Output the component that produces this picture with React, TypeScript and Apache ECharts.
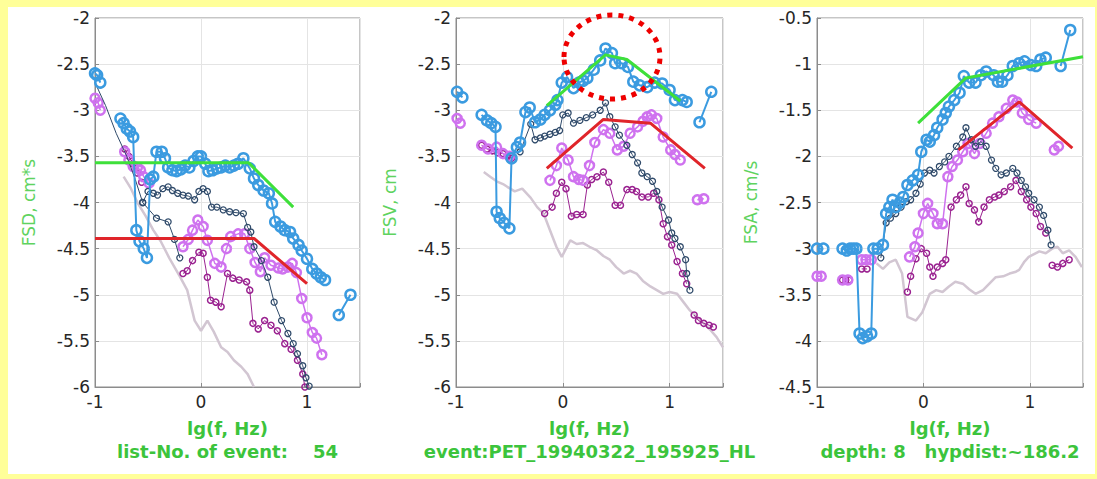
import React, { useEffect, useRef } from "react";
import * as echarts from "echarts";

const GAP = null;

// ---------- Panel 1 (FSD) ----------
const p1Blue = [[-1, -2.6], [-0.98, -2.62], [-0.95, -2.7], GAP, [-0.76, -3.09], [-0.73, -3.14], [-0.7, -3.2], [-0.67, -3.23], [-0.64, -3.29], [-0.61, -4.3], [-0.58, -4.42], [-0.54, -4.5], [-0.51, -4.6], [-0.48, -3.75], [-0.45, -3.72], [-0.42, -3.45], [-0.37, -3.45], [-0.34, -3.52], [-0.31, -3.62], [-0.27, -3.65], [-0.23, -3.66], [-0.19, -3.64], [-0.15, -3.6], [-0.11, -3.62], [-0.07, -3.55], [-0.03, -3.5], [0.0, -3.5], [0.04, -3.58], [0.07, -3.66], [0.11, -3.65], [0.15, -3.63], [0.19, -3.62], [0.23, -3.6], [0.27, -3.62], [0.31, -3.6], [0.35, -3.58], [0.4, -3.52], [0.46, -3.63], [0.5, -3.74], [0.54, -3.81], [0.59, -3.87], [0.64, -3.9], [0.67, -4.01], [0.7, -4.21], [0.75, -4.26], [0.79, -4.3], [0.84, -4.32], [0.87, -4.39], [0.92, -4.46], [0.95, -4.52], [1.0, -4.61], [1.05, -4.72], [1.09, -4.77], [1.13, -4.81], [1.17, -4.84], GAP, [1.3, -5.22], [1.41, -5.0]];
const p1NavyLead = [[-1, -2.7], [-0.9, -2.95], [-0.8, -3.25], [-0.7, -3.5], [-0.62, -3.75], [-0.55, -4.0]];
const p1NavyBranch = [[-0.55, -4.0], [-0.42, -4.17], [-0.31, -4.21], [-0.25, -4.4], [-0.2, -4.6]];
const p1Navy = [[-0.55, -4.0], [-0.5, -3.88], [-0.45, -3.9], [-0.41, -3.92], [-0.36, -3.85], [-0.31, -3.83], [-0.27, -3.87], [-0.22, -3.9], [-0.17, -3.92], [-0.12, -3.93], [-0.06, -3.97], [-0.02, -3.88], [0.02, -3.85], [0.06, -3.88], [0.1, -4.05], [0.15, -4.05], [0.21, -4.08], [0.27, -4.1], [0.33, -4.11], [0.4, -4.12], [0.44, -4.27], [0.47, -4.32], [0.5, -4.48], [0.57, -4.63], [0.63, -4.81], [0.69, -5.08], [0.76, -5.28], [0.82, -5.42], [0.87, -5.53], [0.91, -5.64], [0.96, -5.77], [0.99, -5.9], [1.02, -5.99]];
const p1Violet = [[-1, -2.87], [-0.97, -2.92], [-0.95, -3.0], GAP, [-0.72, -3.45], [-0.68, -3.54], [-0.64, -3.61], [-0.6, -3.62], [-0.57, -3.65], [-0.54, -3.72], [-0.49, -3.79], GAP, [-0.17, -4.48], [-0.12, -4.4], [-0.08, -4.3], [-0.03, -4.19], [0.02, -4.26], [0.06, -4.41], [0.13, -4.66], [0.19, -4.7], [0.24, -4.5], [0.28, -4.37], [0.35, -4.34], [0.41, -4.34], [0.46, -4.5], [0.51, -4.65], [0.56, -4.75], [0.6, -4.6], [0.66, -4.68], [0.73, -4.71], [0.77, -4.72], [0.82, -4.7], [0.86, -4.66], [0.9, -4.76], [0.95, -5.04], [1.0, -5.25], [1.05, -5.41], [1.09, -5.47], [1.14, -5.65]];
const p1Magenta = [[-0.72, -3.42], [-0.68, -3.5], [-0.64, -3.58], [-0.6, -3.68], [-0.56, -3.78], GAP, [-0.17, -4.77], [-0.13, -4.74], [-0.08, -4.63], [-0.02, -4.54], [0.02, -4.55], [0.06, -4.81], [0.09, -5.06], [0.14, -5.08], [0.19, -5.13], [0.25, -4.77], [0.3, -4.82], [0.36, -4.84], [0.43, -4.86], [0.46, -4.95], [0.49, -5.31], [0.54, -5.37], [0.6, -5.28], [0.66, -5.33], [0.72, -5.39], [0.79, -5.53], [0.85, -5.59], [0.91, -5.71], [0.96, -5.86], [0.98, -6.0]];
const p1Gray = [[-0.73, -3.72], [-0.66, -3.85], [-0.6, -4.0], [-0.52, -4.15], [-0.45, -4.3], [-0.38, -4.42], [-0.3, -4.6], [-0.2, -4.8], [-0.13, -4.95], [-0.06, -5.28], [0, -5.39], [0.06, -5.28], [0.12, -5.4], [0.19, -5.57], [0.25, -5.62], [0.31, -5.71], [0.38, -5.78], [0.44, -5.86], [0.5, -6.0]];
const p1Green = [[-1, -3.57], [0.45, -3.57], [0.87, -4.05]];
const p1Red = [[-1, -4.39], [0.5, -4.39], [1.0, -4.88]];

// ---------- Panel 2 (FSV) ----------
const p2Blue = [[-0.99, -2.8], [-0.94, -2.86], GAP, [-0.76, -3.05], [-0.71, -3.11], [-0.67, -3.14], [-0.63, -3.18], [-0.62, -4.1], [-0.59, -4.17], [-0.55, -4.22], [-0.5, -4.28], [-0.48, -3.52], [-0.43, -3.4], [-0.4, -3.35], [-0.35, -3.02], [-0.31, -2.97], [-0.26, -3.13], [-0.21, -3.1], [-0.17, -3.05], [-0.12, -3.0], [-0.07, -2.94], [-0.05, -2.89], [-0.01, -2.7], [0.04, -2.64], [0.1, -2.76], [0.15, -2.7], [0.19, -2.68], [0.23, -2.65], [0.29, -2.56], [0.35, -2.46], [0.4, -2.33], [0.46, -2.38], [0.49, -2.49], [0.55, -2.49], [0.61, -2.53], [0.66, -2.69], [0.72, -2.73], [0.79, -2.75], [0.86, -2.7], [0.93, -2.71], [1.0, -2.78], [1.05, -2.89], [1.12, -2.89], [1.16, -2.91], GAP, [1.28, -3.13], [1.39, -2.8]];
const p2Navy = [[-0.4, -3.45], [-0.3, -3.15], [-0.26, -3.32], [-0.21, -3.3], [-0.17, -3.28], [-0.12, -3.26], [-0.07, -3.24], [-0.03, -3.22], [0.0, -3.05], [0.05, -3.03], [0.1, -3.14], [0.16, -3.11], [0.22, -3.08], [0.28, -3.05], [0.35, -3.0], [0.4, -2.92], [0.44, -3.07], [0.49, -3.18], [0.53, -3.27], [0.6, -3.38], [0.65, -3.48], [0.7, -3.57], [0.74, -3.68], [0.79, -3.72], [0.84, -3.77], [0.88, -3.88], [0.93, -4.05], [0.99, -4.19], [1.02, -4.33], [1.05, -4.39], [1.1, -4.48], [1.15, -4.62], [1.16, -4.77], [1.19, -4.95]];
const p2Violet = [[-0.99, -3.09], [-0.96, -3.14], GAP, [-0.76, -3.38], [-0.7, -3.42], [-0.62, -3.4], [-0.56, -3.47], [-0.5, -3.5], GAP, [-0.12, -3.76], [-0.06, -3.6], [-0.01, -3.41], [0.05, -3.54], [0.1, -3.72], [0.15, -3.75], [0.19, -3.76], [0.25, -3.6], [0.3, -3.35], [0.38, -3.21], [0.44, -3.25], [0.51, -3.43], [0.57, -3.39], [0.63, -3.25], [0.7, -3.18], [0.75, -3.12], [0.79, -3.07], [0.83, -3.05], [0.88, -3.09], [0.94, -3.29], [1.01, -3.43], [1.05, -3.48], [1.1, -3.54], GAP, [1.26, -3.97], [1.32, -3.96]];
const p2Magenta = [[-0.76, -3.38], [-0.71, -3.42], [-0.66, -3.44], [-0.61, -3.46], [-0.56, -3.47], [-0.52, -3.5], [-0.48, -3.52], GAP, [-0.17, -4.12], [-0.1, -4.05], [-0.06, -3.9], [-0.01, -3.78], [0.03, -3.85], [0.08, -4.15], [0.13, -4.13], [0.19, -4.13], [0.23, -3.81], [0.27, -3.75], [0.32, -3.72], [0.38, -3.67], [0.43, -3.78], [0.49, -4.03], [0.54, -4.03], [0.6, -3.86], [0.65, -3.86], [0.69, -3.88], [0.74, -3.94], [0.8, -3.94], [0.85, -3.9], [0.9, -3.97], [0.94, -4.23], [0.98, -4.37], [1.02, -4.46], [1.07, -4.64], [1.12, -4.77], [1.16, -4.88], GAP, [1.23, -5.22], [1.27, -5.28], [1.32, -5.31], [1.37, -5.33], [1.41, -5.35]];
const p2Gray = [[-0.74, -3.67], [-0.68, -3.72], [-0.62, -3.77], [-0.56, -3.8], [-0.52, -3.83], [-0.45, -3.88], [-0.38, -3.85], [-0.3, -3.95], [-0.24, -4.05], [-0.18, -4.12], [-0.12, -4.3], [-0.06, -4.48], [-0.01, -4.59], [0.03, -4.5], [0.07, -4.41], [0.13, -4.45], [0.19, -4.44], [0.25, -4.48], [0.32, -4.52], [0.38, -4.58], [0.44, -4.62], [0.5, -4.7], [0.57, -4.77], [0.63, -4.74], [0.69, -4.77], [0.75, -4.85], [0.82, -4.91], [0.88, -4.95], [0.94, -4.99], [1.0, -4.97], [1.07, -4.99], [1.13, -5.08], [1.19, -5.17], [1.26, -5.25], [1.32, -5.31], [1.38, -5.38], [1.44, -5.46], [1.5, -5.57]];
const p2Green = [[-0.15, -2.95], [0.4, -2.4], [0.6, -2.45], [1.1, -2.9]];
const p2Red = [[-0.15, -3.63], [0.38, -3.1], [0.82, -3.14], [1.33, -3.63]];

// ---------- Panel 3 (FSA) ----------
const p3Blue = [[-1, -3.0], [-0.94, -3.0], GAP, [-0.76, -3.0], [-0.72, -3.02], [-0.69, -3.0], [-0.66, -3.0], [-0.63, -3.0], [-0.6, -3.92], [-0.57, -3.97], [-0.53, -3.95], [-0.49, -3.92], [-0.47, -3.0], [-0.43, -3.0], [-0.38, -2.96], [-0.35, -2.62], [-0.32, -2.55], [-0.29, -2.47], [-0.26, -2.55], [-0.22, -2.5], [-0.19, -2.44], [-0.15, -2.31], [-0.1, -2.26], [-0.05, -2.2], [-0.02, -1.95], [0.03, -1.82], [0.06, -1.84], [0.1, -1.77], [0.13, -1.69], [0.18, -1.6], [0.21, -1.53], [0.24, -1.46], [0.29, -1.39], [0.34, -1.31], [0.38, -1.13], [0.43, -1.2], [0.49, -1.2], [0.54, -1.12], [0.59, -1.08], [0.66, -1.12], [0.7, -1.19], [0.74, -1.19], [0.79, -1.12], [0.84, -1.02], [0.9, -0.99], [0.95, -0.97], [1.01, -1.01], [1.06, -1.02], [1.1, -0.95], [1.15, -0.93], GAP, [1.29, -1.02], [1.38, -0.63]];
const p3Navy = [[-0.4, -3.1], [-0.35, -2.72], [-0.31, -2.67], [-0.26, -2.62], [-0.21, -2.55], [-0.16, -2.49], [-0.12, -2.47], [-0.07, -2.4], [-0.03, -2.3], [0.01, -2.18], [0.06, -2.15], [0.1, -2.18], [0.15, -2.11], [0.2, -2.06], [0.24, -2.0], [0.31, -1.89], [0.37, -1.79], [0.4, -1.69], [0.45, -1.82], [0.49, -1.89], [0.54, -1.84], [0.59, -1.89], [0.64, -2.04], [0.68, -2.13], [0.73, -2.2], [0.78, -2.18], [0.84, -2.13], [0.88, -2.18], [0.92, -2.26], [0.96, -2.33], [0.99, -2.4], [1.04, -2.47], [1.09, -2.55], [1.13, -2.64], [1.17, -2.8], [1.2, -2.96]];
const p3Violet = [[-1, -3.3], [-0.96, -3.3], GAP, [-0.76, -3.34], [-0.71, -3.34], GAP, [-0.58, -3.12], [-0.54, -3.12], [-0.49, -3.12], GAP, [-0.13, -3.09], [-0.08, -2.98], [-0.05, -2.83], [0.0, -2.62], [0.04, -2.51], [0.09, -2.62], [0.13, -2.73], [0.18, -2.73], [0.23, -2.22], [0.27, -2.11], [0.32, -2.04], [0.37, -1.95], [0.42, -1.86], [0.48, -1.97], [0.53, -1.86], [0.59, -1.75], [0.65, -1.64], [0.71, -1.57], [0.78, -1.48], [0.84, -1.39], [0.88, -1.41], [0.93, -1.53], [0.99, -1.6], [1.06, -1.64], GAP, [1.23, -1.93], [1.27, -1.89]];
const p3Magenta = [[-0.76, -3.34], [-0.73, -3.34], [-0.7, -3.34], GAP, [-0.58, -3.22], [-0.53, -3.22], GAP, [-0.15, -3.47], [-0.12, -3.3], [-0.07, -3.11], [-0.02, -3.0], [0.03, -3.05], [0.06, -3.2], [0.09, -3.3], [0.13, -3.2], [0.18, -3.16], [0.21, -3.12], [0.26, -2.55], [0.31, -2.47], [0.35, -2.42], [0.4, -2.33], [0.43, -2.51], [0.48, -2.58], [0.52, -2.71], [0.57, -2.55], [0.62, -2.47], [0.67, -2.44], [0.71, -2.42], [0.76, -2.38], [0.82, -2.33], [0.87, -2.26], [0.92, -2.38], [0.97, -2.47], [1.01, -2.55], [1.06, -2.62], [1.1, -2.76], [1.15, -2.83], GAP, [1.21, -3.18], [1.26, -3.2], [1.31, -3.16], [1.37, -3.12]];
const p3Gray = [[-0.44, -3.16], [-0.38, -3.22], [-0.32, -3.15], [-0.26, -3.12], [-0.2, -3.27], [-0.15, -3.74], [-0.07, -3.78], [-0.01, -3.69], [0.06, -3.49], [0.12, -3.45], [0.18, -3.47], [0.24, -3.41], [0.3, -3.36], [0.37, -3.38], [0.43, -3.44], [0.49, -3.49], [0.56, -3.45], [0.62, -3.38], [0.68, -3.31], [0.75, -3.3], [0.81, -3.27], [0.87, -3.25], [0.9, -3.23], [0.95, -3.14], [0.99, -3.09], [1.04, -3.06], [1.09, -3.03], [1.15, -3.05], [1.21, -3.0], [1.26, -2.98], [1.31, -3.05], [1.37, -3.02], [1.43, -3.09], [1.49, -3.2]];
const p3Green = [[-0.05, -1.64], [0.4, -1.15], [1.5, -0.92]];
const p3Red = [[0.33, -1.93], [0.9, -1.41], [1.4, -1.91]];

// ---------- axes / texts ----------
const xMin = -1;
const xMax = 1.5;
const yMins = [-6, -6, -4.5];
const yMaxs = [-2, -2, -0.5];
const yNames = ["FSD, cm*s", "FSV, cm", "FSA, cm/s"];
const xName = "lg(f, Hz)";
const captions = ["list-No. of event:    54", "event:PET_19940322_195925_HL", "depth: 8   hypdist:~186.2"];

const gridLefts = [95, 456, 817];
const gridWidths = [265, 267, 266];
const GRID_TOP = 18;
const GRID_H = 369;

const C_BLUE = "#3b9be0";
const C_NAVY = "#2f4a6a";
const C_VIOLET = "#cf72ef";
const C_MAGENTA = "#9a2290";
const C_GRAY = "#d2c6d2";
const C_GREEN = "#3ee03a";
const C_RED = "#e0252a";
const FONT = "DejaVu Sans, Verdana, sans-serif";

const toData = (arr: any[]) => arr.map((p) => (p === null ? ["-", "-"] : p));

function marker(data: any[], g: number, color: string, size: number, bw: number, lw: number, z: number) {
  return {
    type: "line",
    xAxisIndex: g,
    yAxisIndex: g,
    data: toData(data),
    symbol: "circle",
    symbolSize: size,
    showSymbol: true,
    connectNulls: false,
    silent: true,
    itemStyle: { color: "rgba(255,255,255,0)", borderColor: color, borderWidth: bw },
    lineStyle: { color, width: lw },
    z,
  };
}
function plain(data: any[], g: number, color: string, lw: number, z: number) {
  return {
    type: "line",
    xAxisIndex: g,
    yAxisIndex: g,
    data: toData(data),
    symbol: "none",
    connectNulls: false,
    silent: true,
    lineStyle: { color, width: lw },
    z,
  };
}

const panels = [
  { blue: p1Blue, navy: p1Navy, violet: p1Violet, magenta: p1Magenta, gray: p1Gray, green: p1Green, red: p1Red },
  { blue: p2Blue, navy: p2Navy, violet: p2Violet, magenta: p2Magenta, gray: p2Gray, green: p2Green, red: p2Red },
  { blue: p3Blue, navy: p3Navy, violet: p3Violet, magenta: p3Magenta, gray: p3Gray, green: p3Green, red: p3Red },
];

function buildOption() {
  const grid: any[] = [];
  const xAxis: any[] = [];
  const yAxis: any[] = [];
  const series: any[] = [];
  const graphic: any[] = [];
  panels.forEach((p, g) => {
    grid.push({
      left: gridLefts[g],
      top: GRID_TOP,
      width: gridWidths[g],
      height: GRID_H,
      show: true,
      backgroundColor: "#ffffff",
      borderColor: "#8c8c8c",
      borderWidth: 1,
    });
    xAxis.push({
      type: "value",
      gridIndex: g,
      min: xMin,
      max: xMax,
      interval: 1,
      name: xName,
      nameLocation: "middle",
      nameGap: 32,
      nameTextStyle: { color: "#3cc43c", fontWeight: "bold", fontSize: 18, fontFamily: FONT },
      axisLine: { show: true, onZero: false, lineStyle: { color: "#8c8c8c" } },
      axisTick: { show: true, inside: true, length: 4, lineStyle: { color: "#8c8c8c" } },
      splitLine: { show: true, lineStyle: { color: "#e4e4e4" } },
      axisLabel: {
        color: "#262626",
        fontSize: 17,
        fontFamily: FONT,
        margin: 6,
        formatter: (v: number) => (Number.isInteger(v) ? String(v) : ""),
      },
    });
    yAxis.push({
      type: "value",
      gridIndex: g,
      min: yMins[g],
      max: yMaxs[g],
      interval: 0.5,
      name: yNames[g],
      nameLocation: "middle",
      nameGap: 58,
      nameTextStyle: { color: "#5fd35f", fontSize: 17, fontFamily: FONT },
      axisLine: { show: true, onZero: false, lineStyle: { color: "#8c8c8c" } },
      axisTick: { show: true, inside: true, length: 4, lineStyle: { color: "#8c8c8c" } },
      splitLine: { show: true, lineStyle: { color: "#e4e4e4" } },
      axisLabel: { color: "#262626", fontSize: 17, fontFamily: FONT, margin: 5 },
    });
    series.push(plain(p.gray, g, C_GRAY, 2.5, 2));
    series.push(marker(p.magenta, g, C_MAGENTA, 6, 1.5, 1, 3));
    series.push(marker(p.violet, g, C_VIOLET, 9, 2.5, 1.5, 4));
    series.push(marker(p.navy, g, C_NAVY, 6, 1.3, 1, 5));
    series.push(marker(p.blue, g, C_BLUE, 10, 2.5, 2, 6));
    series.push(plain(p.green, g, C_GREEN, 3, 8));
    series.push(plain(p.red, g, C_RED, 3, 8));
    graphic.push({
      type: "text",
      x: gridLefts[g] + gridWidths[g] / 2,
      y: 451,
      style: {
        text: captions[g],
        fill: "#3cc43c",
        font: `bold 18px ${FONT}`,
        textAlign: "center",
        textVerticalAlign: "middle",
      },
    });
  });
  series.push(plain(p1NavyLead, 0, C_NAVY, 1, 5));
  series.push(marker(p1NavyBranch, 0, C_NAVY, 6, 1.3, 1, 5));
  graphic.push({
    type: "ellipse",
    shape: { cx: 612, cy: 57, rx: 48, ry: 42 },
    style: { fill: "none", stroke: "#ee0000", lineWidth: 5, lineDash: [5, 6] },
    z: 100,
  });
  return { animation: false, backgroundColor: "transparent", grid, xAxis, yAxis, series, graphic };
}

export default function App() {
  const ref = useRef<HTMLDivElement>(null);
  useEffect(() => {
    const chart = echarts.init(ref.current as HTMLDivElement, null, { renderer: "svg" });
    chart.setOption(buildOption() as any);
    return () => chart.dispose();
  }, []);
  return (
    <div style={{ position: "fixed", left: 0, top: 0, width: 1097, height: 479, background: "#ffff99", overflow: "hidden" }}>
      <div style={{ position: "absolute", left: 8, top: 7, width: 1087, height: 467, background: "#ffffff" }} />
      <div ref={ref} style={{ position: "absolute", left: 0, top: 0, width: 1097, height: 479 }} />
    </div>
  );
}
